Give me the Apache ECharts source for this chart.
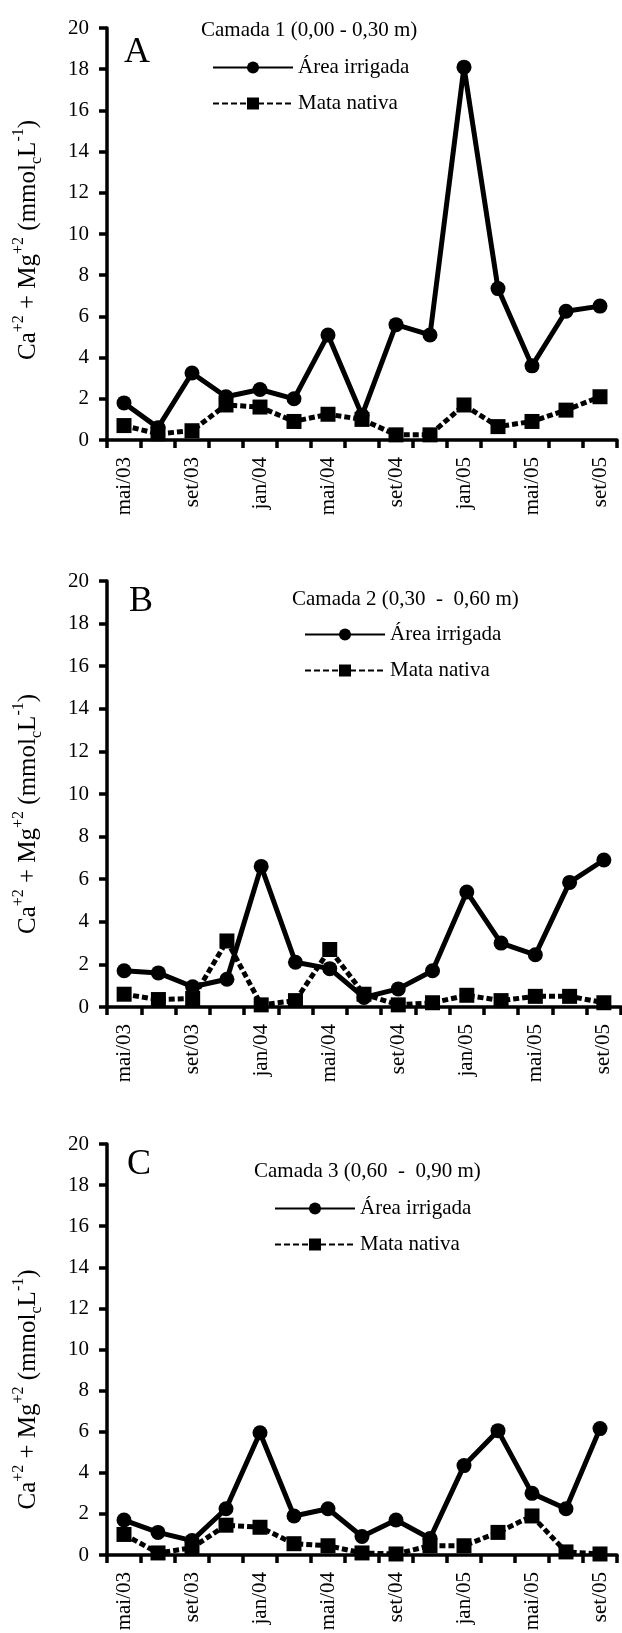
<!DOCTYPE html>
<html>
<head>
<meta charset="utf-8">
<script src="https://cdn.jsdelivr.net/npm/echarts@6/dist/echarts.min.js"></script>
<style>
html,body{margin:0;padding:0;background:#fff;}
#main{width:622px;height:1633px;}
</style>
</head>
<body>
<div id="main"></div>
<script>

/********** 数据 ********** */

var meses = ["mai/03","jul/03","set/03","nov/03","jan/04","mar/04","mai/04","jul/04","set/04","nov/04","jan/05","mar/05","mai/05","jul/05","set/05"];

var yTicks = [0,2,4,6,8,10,12,14,16,18,20];

var irrigadaA = [1.8,0.6,3.25,2.1,2.45,2.0,5.1,1.2,5.6,5.1,18.1,7.35,3.6,6.25,6.5];
var nativaA   = [0.7,0.3,0.45,1.7,1.6,0.9,1.25,1.0,0.25,0.25,1.7,0.65,0.9,1.45,2.1];

var irrigadaB = [1.7,1.6,0.95,1.3,6.6,2.1,1.8,0.45,0.85,1.7,5.4,3.0,2.45,5.85,6.9];
var nativaB   = [0.6,0.35,0.4,3.1,0.1,0.3,2.7,0.6,0.1,0.2,0.55,0.3,0.5,0.5,0.2];

var irrigadaC = [1.7,1.1,0.7,2.25,5.95,1.9,2.25,0.9,1.7,0.8,4.35,6.05,3.0,2.25,6.15];
var nativaC   = [1.0,0.1,0.35,1.45,1.35,0.55,0.45,0.1,0.05,0.45,0.45,1.1,1.9,0.15,0.05];

var camadas = ["Camada 1 (0,00 - 0,30 m)","Camada 2 (0,30  -  0,60 m)","Camada 3 (0,60  -  0,90 m)"];
var letras = ["A","B","C"];
var nomes = ["Área irrigada","Mata nativa"];

/********** 布局 ********** */

var fonte = "'Liberation Serif', 'Times New Roman', serif";

// desloc: o título do eixo y fica um pouco abaixo do centro
var paineis = [
    {top:28,   height:412, right:5, desloc:6,  titulo:{left:201,top:20},  letra:{left:124,top:35},  legenda:{left:212,top:57}},
    {top:581,  height:426, right:1, desloc:20, titulo:{left:292,top:589}, letra:{left:129,top:584}, legenda:{left:304,top:624}},
    {top:1144, height:411, right:5, desloc:40, titulo:{left:254,top:1161},letra:{left:127,top:1147},legenda:{left:274,top:1198}}
];

var dados = [[irrigadaA,nativaA],[irrigadaB,nativaB],[irrigadaC,nativaC]];

var grids = [], xAxes = [], yAxes = [], series = [], titles = [], legends = [];

function cada(arr,fn){ for(var i=0;i<arr.length;i++){ fn(i,arr[i]); } }

cada(paineis,function(i,p){

    grids.push({left:107, right:p.right, top:p.top, height:p.height, containLabel:false, outerBoundsMode:"none"});

    xAxes.push({
        type : "category",
        gridIndex : i,
        data : meses,
        boundaryGap : true,
        axisLine : {lineStyle:{color:"#000",width:3.5}},
        axisTick : {show:true, interval:0, length:8, lineStyle:{color:"#000",width:3.5}},
        axisLabel : {interval:1, rotate:90, margin:17, color:"#000", fontFamily:fonte, fontSize:21},
        splitLine : {show:false}
    });

    yAxes.push({
        type : "value",
        gridIndex : i,
        min : yTicks[0],
        max : yTicks[yTicks.length-1],
        interval : 2,
        axisLine : {show:true, lineStyle:{color:"#000",width:3.5}},
        axisTick : {show:true, length:8, lineStyle:{color:"#000",width:3.5}},
        axisLabel : {margin:18, color:"#000", fontFamily:fonte, fontSize:21},
        splitLine : {show:false},
        name : "{n|Ca}{sup|+2}{n| + Mg}{sup|+2}{n| (mmol}{sub|c}{n|L}{sup|-1}{n|)}",
        nameLocation : "middle",
        nameRotate : 90,
        nameGap : 62,
        nameTextStyle : {
            color : "#000",
            fontFamily : fonte,
            padding : [0, p.desloc*2, 0, 0],
            rich : {
                n : {fontSize:25, lineHeight:34, fontFamily:fonte, color:"#000", verticalAlign:"middle"},
                sup : {fontSize:16, lineHeight:16, fontFamily:fonte, color:"#000", verticalAlign:"top"},
                sub : {fontSize:16, lineHeight:16, fontFamily:fonte, color:"#000", verticalAlign:"bottom"}
            }
        }
    });

    series.push({
        name : nomes[1],
        type : "line",
        xAxisIndex : i,
        yAxisIndex : i,
        data : dados[i][1],
        symbol : "rect",
        symbolSize : 15,
        lineStyle : {color:"#000", width:5, type:[6,3]},
        itemStyle : {color:"#000"},
        animation : false
    });

    series.push({
        name : nomes[0],
        type : "line",
        xAxisIndex : i,
        yAxisIndex : i,
        data : dados[i][0],
        symbol : "circle",
        symbolSize : 15,
        lineStyle : {color:"#000", width:5, type:"solid"},
        itemStyle : {color:"#000"},
        animation : false
    });

    titles.push({
        text : camadas[i],
        left : p.titulo.left,
        top : p.titulo.top,
        padding : 0,
        textStyle : {fontFamily:fonte, fontSize:21, fontWeight:"normal", color:"#000"}
    });

    titles.push({
        text : letras[i],
        left : p.letra.left,
        top : p.letra.top,
        padding : 0,
        textStyle : {fontFamily:fonte, fontSize:36, fontWeight:"normal", color:"#000"}
    });

    legends.push({
        data : nomes,
        orient : "vertical",
        left : p.legenda.left,
        top : p.legenda.top,
        padding : 0,
        itemWidth : 80,
        itemHeight : 15,
        itemGap : 15,
        selectedMode : false,
        textStyle : {fontFamily:fonte, fontSize:21, color:"#000"}
    });
});

/********* 绘图 *********/

var myChart = echarts.init(document.getElementById("main"), null, {renderer:"canvas"});

myChart.setOption({
    animation : false,
    backgroundColor : "#fff",
    textStyle : {fontFamily:fonte, color:"#000"},
    title : titles,
    legend : legends,
    grid : grids,
    xAxis : xAxes,
    yAxis : yAxes,
    series : series
});

</script>
</body>
</html>
